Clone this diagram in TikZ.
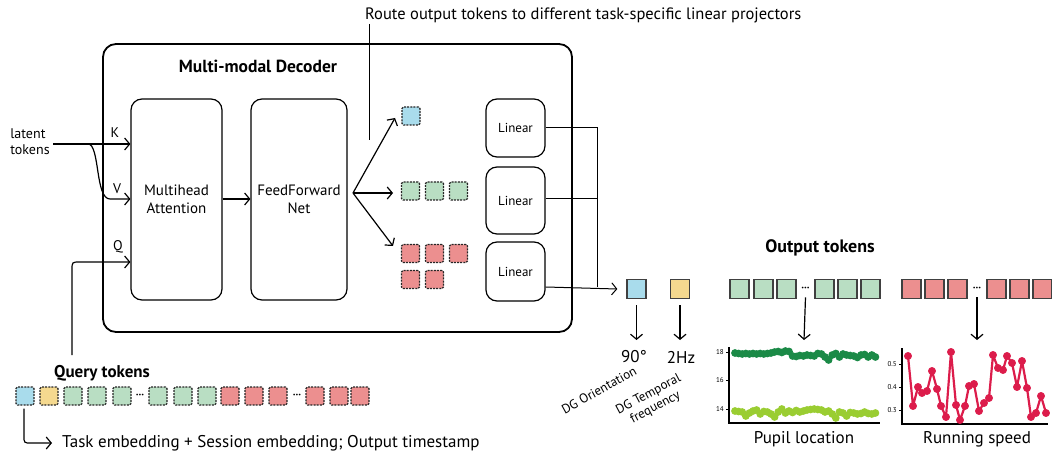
\documentclass[tikz,border=0pt]{standalone}
\usepackage{fontspec}
\setmainfont{PT Sans}
\usetikzlibrary{arrows.meta}
\definecolor{tokblue}{HTML}{A9DCEC}
\definecolor{tokyellow}{HTML}{F5D98F}
\definecolor{tokgreen}{HTML}{B9DEC3}
\definecolor{tokred}{HTML}{EC8F8F}
\definecolor{dkgreen}{HTML}{1B8A47}
\definecolor{ltgreen}{HTML}{9ACD32}
\definecolor{runred}{HTML}{DC1C4B}
\tikzset{
  arr/.style={line width=1.2pt,-{Straight Barb[length=5pt,width=12pt,line width=1.2pt]}},
  blk/.style={draw, line width=1.2pt, rounded corners=11pt, align=center, inner sep=0pt},
  qtok/.style={draw=black!85, dash pattern=on 2pt off 1.1pt, line width=1.4pt, minimum size=18pt, inner sep=0pt, rounded corners=1.5pt},
  otok/.style={draw=black!75, line width=1.3pt, minimum size=19pt, inner sep=0pt},
  dots/.style={inner sep=0pt, font=\bfseries\fontsize{11}{12}\selectfont},
  tick/.style={font=\fontsize{7}{8}\selectfont, anchor=east, inner sep=1pt},
  plotax/.style={line width=1.1pt},
}
\begin{document}
\begin{tikzpicture}[x=1pt,y=-1pt]
\useasboundingbox (0,0) rectangle (1052,454);

% Decoder box
\node[draw, line width=1.8pt, rounded corners=13pt, minimum width=469pt, minimum height=288pt, inner sep=0pt] (dec) at (337.5,188) {};
\node[font=\bfseries\fontsize{17.5}{20}\selectfont] (dectitle) at (258,66) {Multi-modal Decoder};

% Attention and FFN
\node[blk, minimum width=91pt, minimum height=201pt, font=\fontsize{15}{18}\selectfont] (att) at (176.5,199.5) {Multihead\\Attention};
\node[blk, minimum width=96pt, minimum height=201pt, font=\fontsize{15}{18}\selectfont] (ffn) at (299,199.5) {FeedForward\\Net};
\draw[arr] (att.east |- 0,199) -- (ffn.west |- 0,199);

% latent tokens
\node[align=left, font=\fontsize{14}{16}\selectfont, inner sep=0pt] (lat) at (30,142) {latent\\tokens};
\coordinate (kin) at (att.west |- 0,144);
\coordinate (vin) at (att.west |- 0,199);
\coordinate (qin) at (att.west |- 0,262);
\coordinate (split) at (88,144);
\draw[arr] (53,144) -- (kin);
\draw[arr] (split) .. controls (100,144) and (95,199) .. (110,199) -- (vin);
\node[font=\fontsize{14}{16}\selectfont] (klab) at (115,133) {K};
\node[font=\fontsize{14}{16}\selectfont] (vlab) at (117,189) {V};
\node[font=\fontsize{14}{16}\selectfont] (qlab) at (118,247) {Q};

% route label
\node[anchor=west, font=\fontsize{16.5}{19}\selectfont, inner sep=0pt] (route) at (365,15) {Route output tokens to different task-specific linear projectors};
\coordinate (routeend) at (369,140);
\draw[line width=1pt] (369,24) -- (routeend);

% token groups in decoder
\coordinate (fo) at (353,193);
\node[qtok, fill=tokblue] (db1) at (411,116) {};
\node[qtok, fill=tokgreen] (dg1) at (410.5,191) {};
\node[qtok, fill=tokgreen] (dg2) at (434.5,191) {};
\node[qtok, fill=tokgreen] (dg3) at (458.5,191) {};
\node[qtok, fill=tokred] (dr1) at (410.5,253.5) {};
\node[qtok, fill=tokred] (dr2) at (434.5,253.5) {};
\node[qtok, fill=tokred] (dr3) at (458.5,253.5) {};
\node[qtok, fill=tokred] (dr4) at (410.5,279.5) {};
\node[qtok, fill=tokred] (dr5) at (434.5,279.5) {};
\draw[arr] (fo) -- (395,118);
\draw[arr] (fo) -- (393,193);
\draw[arr] (fo) -- (393,246);

% Linear boxes
\node[blk, minimum width=59pt, minimum height=58pt, font=\fontsize{13}{15}\selectfont] (lin1) at (515.5,128) {Linear};
\node[blk, minimum width=59pt, minimum height=67pt, font=\fontsize{13}{15}\selectfont] (lin2) at (515.5,200.5) {Linear};
\node[blk, minimum width=59pt, minimum height=59pt, font=\fontsize{13}{15}\selectfont] (lin3) at (515.5,271.5) {Linear};
\coordinate (bus1) at (597,128);
\coordinate (bus3) at (597,287);
\draw[line width=1pt] (lin1.east) -- (bus1) -- (bus3);
\draw[line width=1pt] (lin2.east |- 0,199) -- (597,199);
\coordinate (l3out) at (lin3.east |- 0,287);

% Output tokens
\node[font=\bfseries\fontsize{18}{21}\selectfont] (otitle) at (820,248) {Output tokens};
\node[otok, fill=tokblue] (ob) at (636.5,289) {};
\node[otok, fill=tokyellow] (oy) at (680,289) {};
\draw[line width=1pt,-{Straight Barb[length=5pt,width=12pt,line width=1pt]}] (l3out) -- ([xshift=-9pt]ob.west);
\foreach \x [count=\i] in {739.5,763.5,786.5,824.5,847.5,870.5}
  \node[otok, fill=tokgreen] (og\i) at (\x,289) {};
\node[dots] (ogd) at (805.5,289) {···};
\foreach \x [count=\i] in {911.5,934.5,957.5,996.5,1019.5,1042.5}
  \node[otok, fill=tokred] (or\i) at (\x,289) {};
\node[dots] (ord) at (977,289) {···};

% value labels
\node[font=\fontsize{17}{20}\selectfont, inner sep=0pt] (t90) at (634,357) {90°};
\node[font=\fontsize{17}{20}\selectfont, inner sep=0pt] (t2hz) at (681,357) {2Hz};
\draw[arr] ([yshift=-6pt]ob.south) -- (636.5,340);
\draw[arr] ([yshift=-6pt]oy.south) -- (680,340);
\coordinate (pupiltop) at (804,340);
\coordinate (runtop) at (977,340);
\draw[arr] ([yshift=-6pt]ogd.south) -- (pupiltop);
\draw[arr] ([yshift=-6pt]ord.south) -- (runtop);
\node[rotate=29, font=\fontsize{13}{15}\selectfont, inner sep=0pt] (dgo) at (599,390) {DG Orientation};
\node[rotate=28, align=center, font=\fontsize{13}{14.5}\selectfont, inner sep=0pt] (dgt) at (652,401) {DG Temporal\\frequency};

% Pupil plot
\draw[plotax] (729,347) -- (729,423) -- (880,423);
\foreach \y/\l in {352/18,380/16,409/14}{
  \draw[line width=0.8pt] (726,\y) -- (729,\y);
  \node[tick] at (725,\y) {\l};
}
\draw[dkgreen, line width=2pt] plot[mark=*, mark size=2.8pt, mark options={fill=dkgreen, draw=dkgreen}] coordinates {
(735,353) (738.6,353.5) (742.2,354) (745.8,353.5) (749.4,354) (753,353.5) (756.6,354) (760.2,353.5) (763.8,354) (767.4,353.5)
(771,353) (774.6,352) (778.2,351.5) (781.8,352.5) (785.4,351) (789,351.5) (792.6,356) (796.2,356.5) (799.8,355.5) (803.4,356)
(807,355) (810.6,355.5) (814.2,356) (817.8,353.5) (821.4,354) (825,357) (828.6,360) (832.2,355) (835.8,353.5) (839.4,357)
(843,354) (846.6,355) (850.2,355.5) (853.8,356) (857.4,357.5) (861,355) (864.6,354.5) (868.2,357) (871.8,355) (875.4,357)};
\draw[ltgreen, line width=2pt] plot[mark=*, mark size=2.8pt, mark options={fill=ltgreen, draw=ltgreen}] coordinates {
(735,411) (738.6,411.5) (742.2,412) (745.8,416) (749.4,413) (753,411) (756.6,410) (760.2,414) (763.8,411.5) (767.4,412)
(771,414) (774.6,417) (778.2,412) (781.8,409) (785.4,413) (789,411) (792.6,412.5) (796.2,410.5) (799.8,412) (803.4,411)
(807,410) (810.6,409.5) (814.2,409) (817.8,409.5) (821.4,410) (825,412) (828.6,411) (832.2,414) (835.8,418) (839.4,412)
(843,413) (846.6,416) (850.2,412.5) (853.8,413) (857.4,414) (861,413.5) (864.6,412) (868.2,413.5) (871.8,414) (875.4,413)};
\node[font=\fontsize{17}{20}\selectfont] (pupil) at (804,439) {Pupil location};

% Running plot
\draw[plotax] (902,348) -- (902,424) -- (1048,424);
\foreach \y/\l in {364/0.5,387/0.4,410/0.3}{
  \draw[line width=0.8pt] (899,\y) -- (902,\y);
  \node[tick] at (898,\y) {\l};
}
\draw[runred, line width=2.2pt, line join=round] plot[mark=*, mark size=2.8pt, mark options={fill=runred, draw=runred}] coordinates {
(908,356) (913,406) (918,387) (922,393) (927,391) (932,371) (937,389) (941,406) (946,417) (951,352)
(956,405) (960,420) (965,406) (969,386) (974,384) (979,411) (984,403) (989,398) (993,355) (998,368)
(1003,370) (1007,356) (1012,363) (1017,387) (1022,361) (1027,388) (1031,417) (1036,413) (1041,396) (1046,413)};
\node[font=\fontsize{17}{20}\selectfont] (run) at (977,439) {Running speed};

% Query tokens
\node[font=\bfseries\fontsize{17}{20}\selectfont] (qtitle) at (102,373) {Query tokens};
\foreach \x/\c [count=\i] in {25/tokblue,49/tokyellow,73/tokgreen,97/tokgreen,122/tokgreen,158/tokgreen,183/tokgreen,207/tokgreen,230/tokred,254/tokred,278/tokred,315/tokred,339/tokred,360/tokred}
  \node[qtok, fill=\c] (q\i) at (\x,396) {};
\node[dots] (qd1) at (140,396) {···};
\node[dots] (qd2) at (297,396) {···};
\coordinate (qstart) at (72,355);
\draw[arr] (qstart) -- (72,270) .. controls (72,262) .. (80,262) -- (qin);
\node[anchor=west, font=\fontsize{17}{20}\selectfont, inner sep=0pt] (task) at (62,443) {Task embedding + Session embedding; Output timestamp};
\draw[arr] ([yshift=-3pt]q1.south -| 24,0) -- (24,436) .. controls (24,443) .. (31,443) -- ([xshift=-10pt]task.west);
\end{tikzpicture}
\end{document}
